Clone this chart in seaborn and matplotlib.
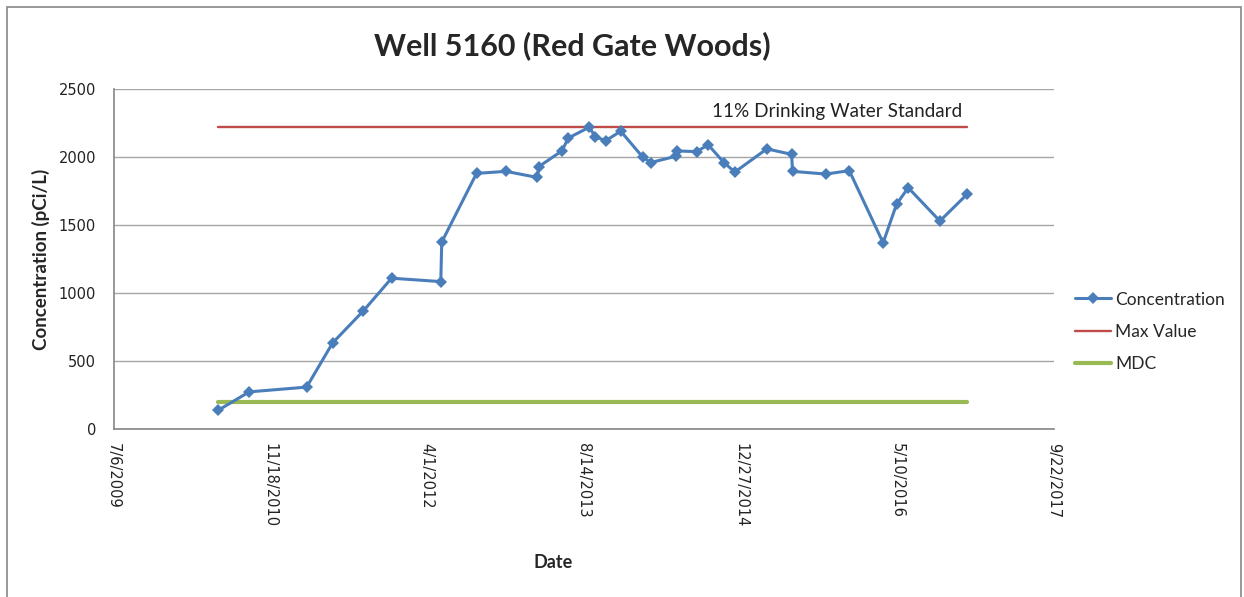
import matplotlib
matplotlib.use("Agg")
import matplotlib.pyplot as plt
import matplotlib.dates as mdates
from matplotlib.patches import Rectangle
import numpy as np
import pandas as pd
import seaborn as sns

# sample dates and concentrations
sample_dates = [
    "2010-06-05", "2010-09-12", "2011-03-14", "2011-06-05", "2011-09-11",
    "2011-12-10", "2012-05-15", "2012-05-18", "2012-09-06", "2012-12-09",
    "2013-03-19", "2013-03-24", "2013-06-05", "2013-06-26", "2013-09-01",
    "2013-09-19", "2013-10-23", "2013-12-10", "2014-02-18", "2014-03-16",
    "2014-06-03", "2014-06-06", "2014-08-09", "2014-09-15", "2014-11-04",
    "2014-12-09", "2015-03-21", "2015-06-08", "2015-06-11", "2015-09-25",
    "2015-12-09", "2016-03-26", "2016-05-08", "2016-06-14", "2016-09-23",
    "2016-12-18",
]
concentration = [
    140, 275, 310, 635, 870,
    1110, 1085, 1375, 1880, 1895,
    1850, 1930, 2045, 2140, 2220,
    2150, 2120, 2190, 2000, 1960,
    2005, 2045, 2040, 2090, 1960,
    1890, 2060, 2020, 1895, 1875,
    1900, 1370, 1655, 1775, 1530,
    1725,
]
max_value = 2220
mdc = 200
x_ticks = ["2009-07-06", "2010-11-18", "2012-04-01", "2013-08-14",
           "2014-12-27", "2016-05-10", "2017-09-22"]

df = pd.DataFrame({"Date": pd.to_datetime(sample_dates), "Concentration": concentration})
ends = pd.to_datetime([sample_dates[0], sample_dates[-1]])
ref = pd.DataFrame({"Date": list(ends) * 2,
                    "value": [max_value, max_value, mdc, mdc],
                    "series": ["Max Value", "Max Value", "MDC", "MDC"]})

sns.set_style("white")
plt.rcParams["font.family"] = ["DejaVu Sans"]

fig = plt.figure(figsize=(12.44, 5.97), dpi=100)
ax = fig.add_axes([113.5 / 1244, 1 - 429.3 / 597, (1054 - 113.5) / 1244, (429.3 - 89) / 597])

grey = "#868686"
ax.grid(axis="y", color="#A6A6A6", lw=1)
ax.set_axisbelow(True)

sns.lineplot(data=ref[ref.series == "Max Value"], x="Date", y="value", color="#BE4B48",
             lw=1.7, ax=ax, label="Max Value", estimator=None)
sns.lineplot(data=ref[ref.series == "MDC"], x="Date", y="value", color="#98B954",
             lw=3.0, ax=ax, label="MDC", estimator=None)
sns.lineplot(data=df, x="Date", y="Concentration", color="#4A7EBB", lw=2.2,
             marker="D", markersize=6.5, markeredgewidth=0, ax=ax,
             label="Concentration", estimator=None)

ax.set_ylim(0, 2500)
ax.set_yticks(np.arange(0, 2501, 500))
ax.set_xlim(pd.Timestamp(x_ticks[0]), pd.Timestamp(x_ticks[-1]))
ax.set_xticks(pd.to_datetime(x_ticks))
ax.xaxis.set_major_formatter(mdates.DateFormatter("%-m/%-d/%Y"))

for side in ["top", "right"]:
    ax.spines[side].set_visible(False)
for side in ["left", "bottom"]:
    ax.spines[side].set_color(grey)
    ax.spines[side].set_linewidth(1.2)

ax.tick_params(axis="both", direction="out", length=5, width=1, color=grey,
               labelsize=10.5, labelcolor="#222222")
ax.tick_params(axis="y", pad=7.5)
ax.tick_params(axis="x", pad=5)
plt.setp(ax.get_xticklabels(), rotation=270, ha="center", va="top")

ax.set_xlabel("Date", fontsize=13, fontweight="bold", family="Lato")
ax.xaxis.set_label_coords((553 - 113.5) / 940.5, -(562 - 429.3) / 340.3)
ax.xaxis.label.set_va("center")
ax.set_ylabel("Concentration (pCi/L)", fontsize=13.5, fontweight="bold", family="Lato", labelpad=6)
fig.text(572 / 1244, 1 - 46 / 597, "Well 5160 (Red Gate Woods)", fontsize=22,
         fontweight="bold", family="Lato", ha="center", va="center")

ax.text(ends[-1] - pd.Timedelta(days=15), max_value + 55, "11% Drinking Water Standard",
        fontsize=13.6, family="Lato", ha="right", va="bottom", color="#222222")

handles, labels = ax.get_legend_handles_labels()
order = [labels.index(n) for n in ["Concentration", "Max Value", "MDC"]]
ax.legend([handles[i] for i in order], [labels[i] for i in order],
          loc="center left", bbox_to_anchor=(1066 / 1244, 1 - 332 / 597),
          bbox_transform=fig.transFigure, frameon=False,
          prop={"family": "Lato", "size": 12.5}, handlelength=2.1, handletextpad=0.25,
          labelspacing=0.95, borderpad=0)

fig.patches.append(Rectangle((7 / 1244, -0.05), (1241 - 7) / 1244, 1.05 - 7 / 597,
                             transform=fig.transFigure, fill=False,
                             edgecolor=grey, lw=1.2))

fig.savefig("out.png", dpi=100)
